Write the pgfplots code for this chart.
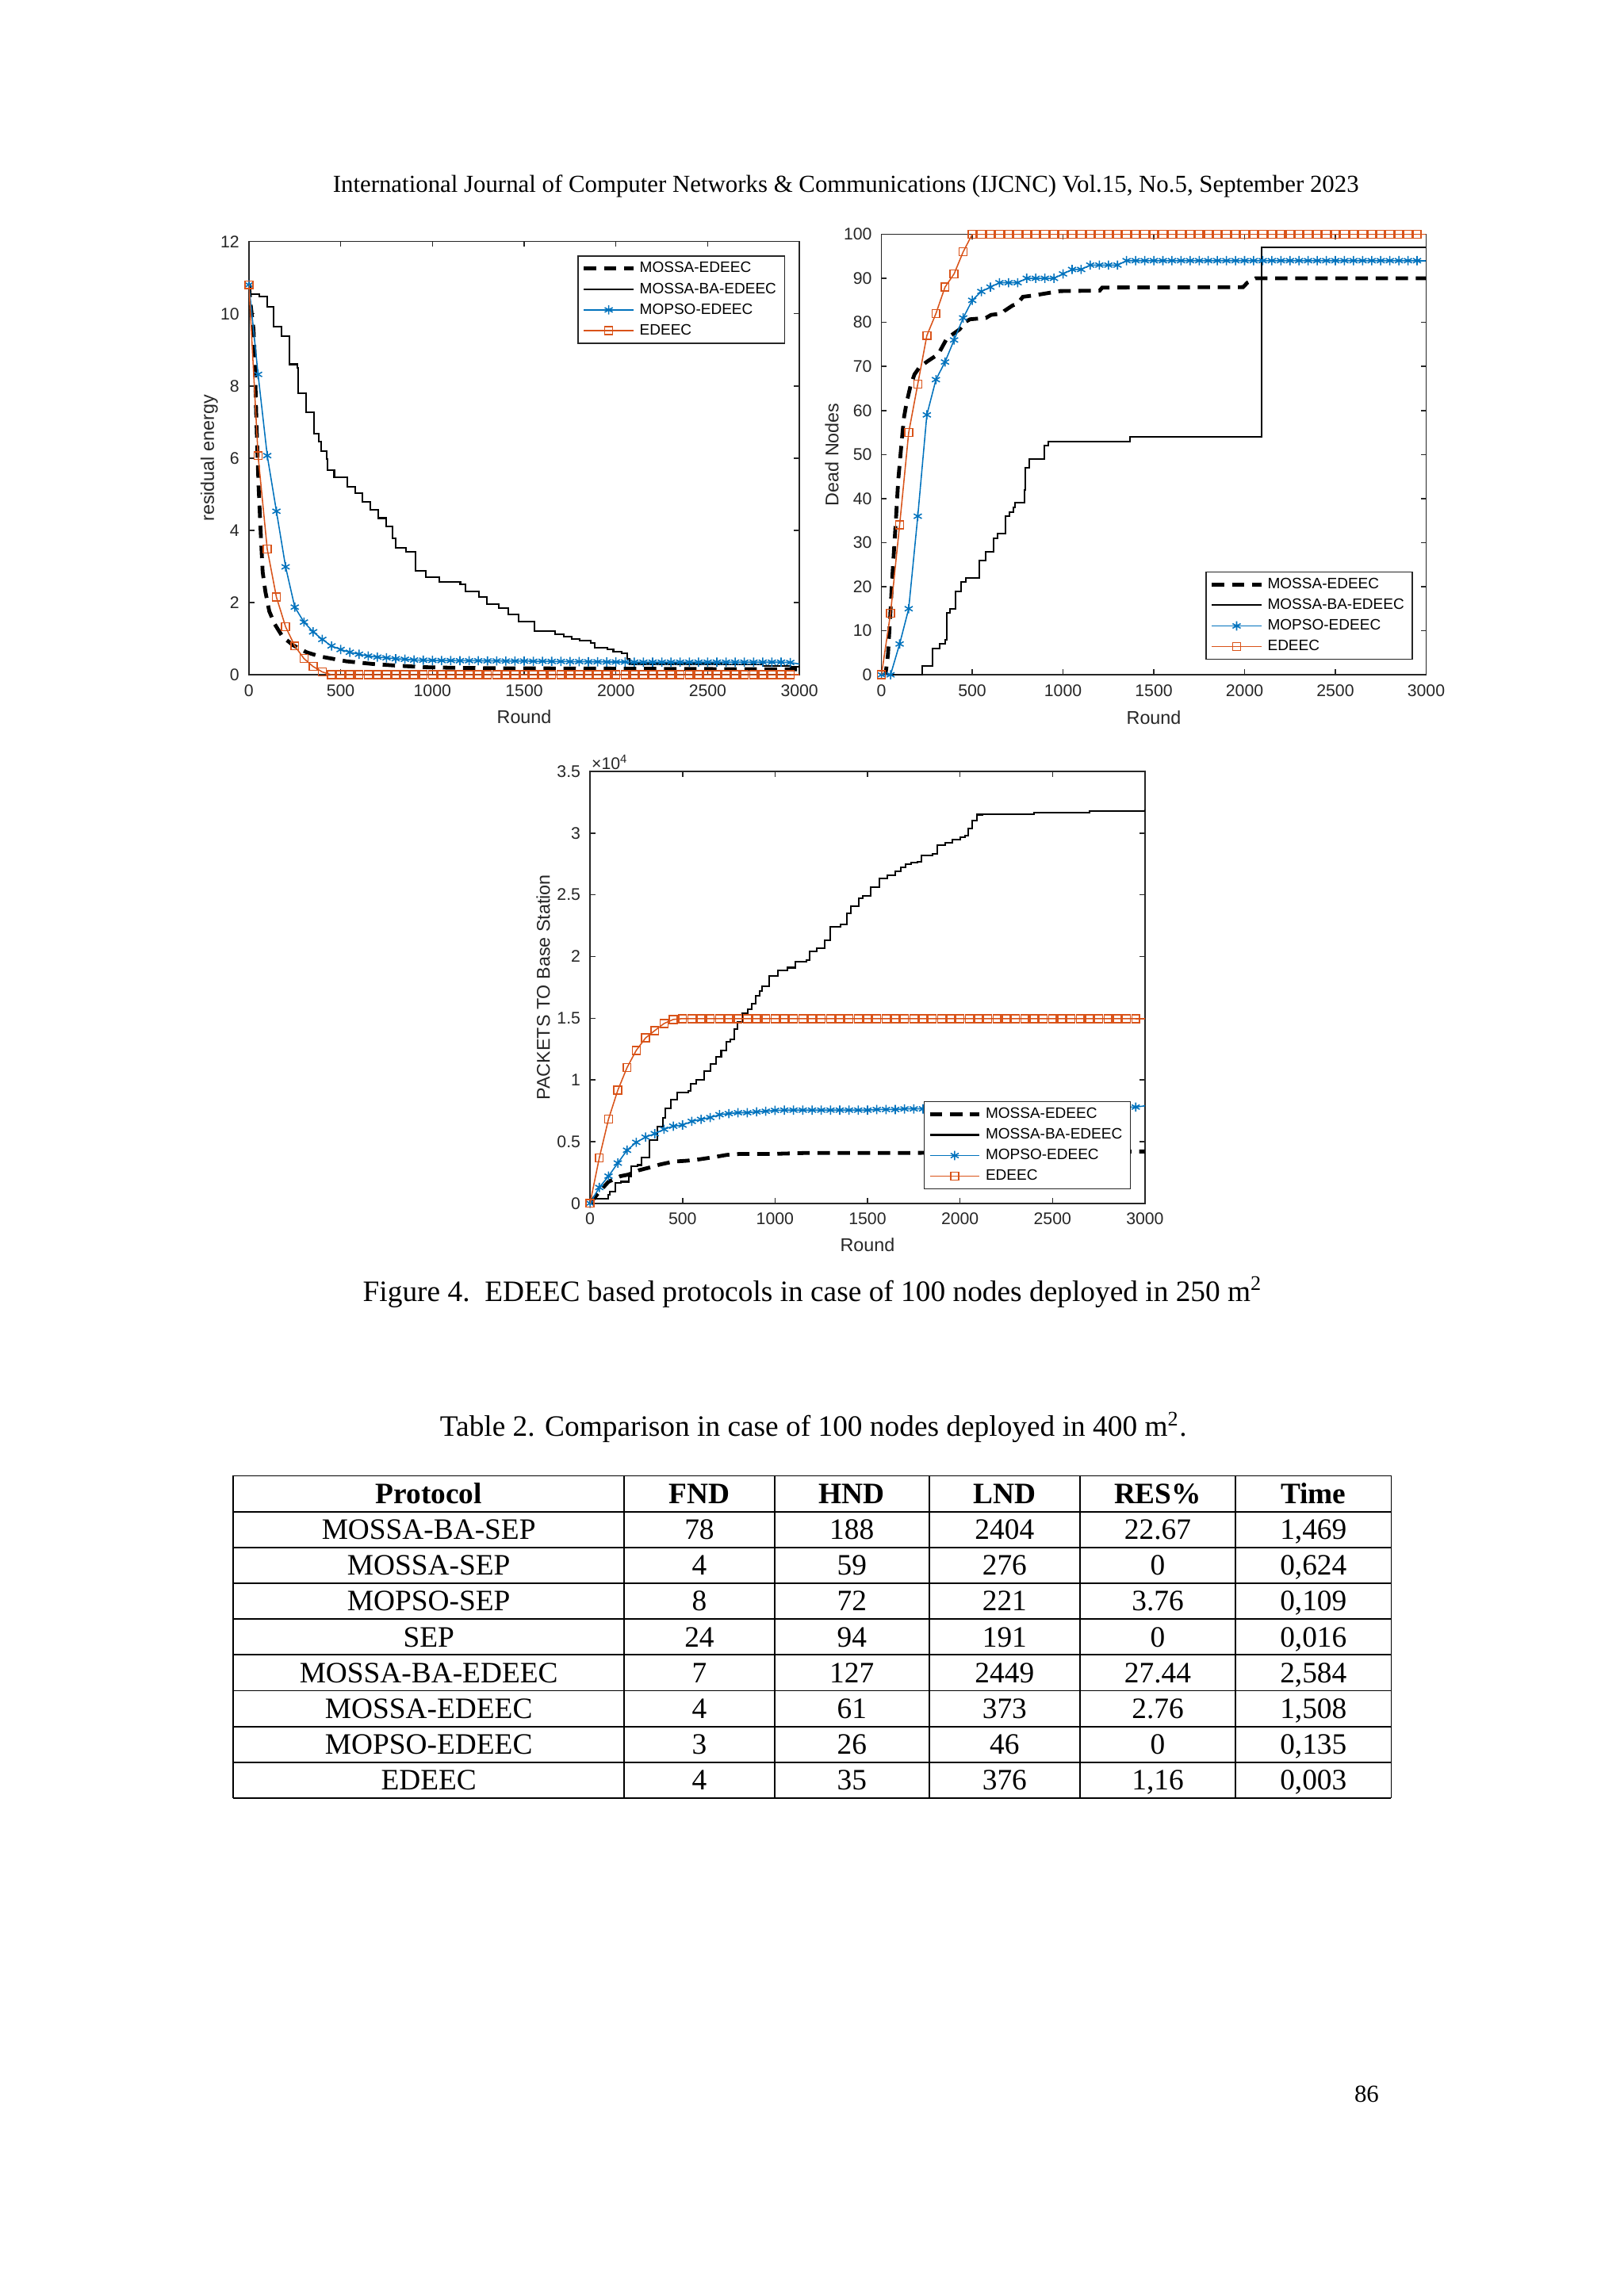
\documentclass[border=0pt]{standalone}
\usepackage{fontspec}
\setmainfont{Liberation Serif}
\newfontfamily\plotfont{Liberation Sans}
\usepackage{pgfplots}
\pgfplotsset{compat=1.18}
\definecolor{mblue}{rgb}{0,0.447,0.741}
\definecolor{morange}{rgb}{0.85,0.325,0.098}
\definecolor{axgray}{rgb}{0.15,0.15,0.15}

% MATLAB-like look shared by the three panels
\pgfplotsset{
  mat/.style={
    scale only axis,
    xmin=0, xmax=3000, xtick={0,500,...,3000},
    axis line style={draw=axgray, line width=0.45pt},
    every tick/.style={draw=axgray, line width=0.45pt},
    tick align=inside, major tick length=0.7mm,
    tick label style={font=\fontsize{6.2}{7}\selectfont\plotfont, text=axgray},
    /pgf/number format/assume math mode=true,
    /pgf/number format/1000 sep={},
    every axis x label/.style={at={(axis description cs:0.5,-0.097)}, anchor=center,
      font=\fontsize{6.8}{8}\selectfont\plotfont, text=axgray},
    every axis y label/.style={rotate=90, anchor=center,
      font=\fontsize{6.8}{8}\selectfont\plotfont, text=axgray},
    xlabel={Round},
    clip mode=individual,
    legend cell align=left,
    legend image code/.code={\draw[mark repeat=2,mark phase=2]
      plot coordinates {(0mm,0mm) (3.2mm,0mm) (6.4mm,0mm)};},
    legend style={draw=axgray, line width=0.45pt, fill=white,
      font=\fontsize{5.55}{6}\selectfont\plotfont, inner xsep=0.5mm, inner ysep=0.3mm,
      nodes={inner xsep=1.6pt, inner ysep=1.3pt, text height=4pt, text depth=1pt, text=black}},
  },
  dsh/.style={black, line width=1.4pt, dash pattern=on 1.6mm off 1mm},
  sol/.style={black, line width=0.6pt},
  blu/.style={mblue, line width=0.45pt, mark=asterisk, mark size=1.7pt, mark options={solid}},
  org/.style={morange, line width=0.45pt, mark=square, mark size=1.45pt, mark options={solid}},
}

\newcommand\trow[7]{%
  \node[anchor=base] at (55.45mm,{-(194.48+#1*4.632)*1mm}) {#2};
  \node[anchor=base] at (90.45mm,{-(194.48+#1*4.632)*1mm}) {#3};
  \node[anchor=base] at (110.17mm,{-(194.48+#1*4.632)*1mm}) {#4};
  \node[anchor=base] at (129.92mm,{-(194.48+#1*4.632)*1mm}) {#5};
  \node[anchor=base] at (149.73mm,{-(194.48+#1*4.632)*1mm}) {#6};
  \node[anchor=base] at (169.86mm,{-(194.48+#1*4.632)*1mm}) {#7};
}

\begin{document}
\begin{tikzpicture}
\path[use as bounding box, fill=white] (0,0) rectangle (210mm,-297mm);

\node[anchor=base, font=\fontsize{9}{10}\selectfont] at (109.4mm,-24.88mm)
  {International Journal of Computer Networks \& Communications (IJCNC) Vol.15, No.5, September 2023};

% ---- residual energy
\begin{axis}[mat, at={(32.19mm,-87.29mm)}, anchor=south west,
  width=71.2mm, height=56.05mm,
  ymin=0, ymax=12, ytick={0,2,...,12},
  ylabel={residual energy},
  ylabel style={at={(axis description cs:-0.072,0.5)}},
  legend style={at={(0.974,0.968)}, anchor=north east}]
\addplot[dsh] coordinates {(0,10.8) (10,10.23) (25,9.57) (32,8.8) (39,7.38) (46,6.2) (53,5.2) (65,3.87) (75,2.85) (90,2.3) (111,1.76) (140,1.41) (184,1.05) (241,0.82) (314,0.625) (386,0.51) (530,0.375) (675,0.3) (819,0.25) (964,0.21) (1108,0.195) (1397,0.18) (2000,0.17) (2500,0.16) (3000,0.15)};
\addlegendentry{MOSSA-EDEEC}
\addplot[sol, const plot] coordinates {(0,10.78) (10,10.55) (56,10.47) (101,10.2) (136,9.65) (176,9.38) (220,8.6) (263,8.5) (270,7.8) (313,7.27) (354,6.68) (379,6.45) (393,6.2) (422,5.98) (429,5.66) (465,5.47) (538,5.2) (581,5.04) (617,4.8) (660,4.57) (704,4.34) (747,4.1) (783,3.79) (798,3.52) (855,3.4) (906,2.89) (964,2.7) (1036,2.58) (1152,2.5) (1181,2.3) (1253,2.15) (1296,1.95) (1361,1.84) (1412,1.68) (1470,1.48) (1556,1.21) (1669,1.13) (1714,1.06) (1759,1.0) (1804,0.95) (1861,0.89) (1884,0.75) (1952,0.7) (1986,0.65) (2031,0.6) (2060,0.45) (2076,0.3) (2574,0.28) (2800,0.25) (2950,0.22) (3000,0.2)};
\addlegendentry{MOSSA-BA-EDEEC}
\addplot[blu] coordinates {(0,10.8) (50,8.32) (100,6.07) (150,4.53) (200,2.99) (250,1.875) (300,1.46) (350,1.19) (400,0.98) (450,0.8) (500,0.7) (550,0.625) (600,0.57) (650,0.52) (700,0.49) (750,0.47) (800,0.445) (850,0.43) (900,0.41) (950,0.405) (1000,0.4) (1050,0.395) (1100,0.395) (1150,0.39) (1200,0.39) (1250,0.39) (1300,0.385) (1350,0.385) (1400,0.38) (1450,0.38) (1500,0.38) (1550,0.375) (1600,0.375) (1650,0.37) (1700,0.37) (1750,0.365) (1800,0.365) (1850,0.36) (1900,0.36) (1950,0.355) (2000,0.355) (2050,0.355) (2100,0.35) (2150,0.35) (2200,0.35) (2250,0.35) (2300,0.35) (2350,0.35) (2400,0.35) (2450,0.35) (2500,0.35) (2550,0.35) (2600,0.35) (2650,0.35) (2700,0.35) (2750,0.35) (2800,0.35) (2850,0.35) (2900,0.35) (2950,0.34)};
\addlegendentry{MOPSO-EDEEC}
\addplot[org] coordinates {(0,10.8) (50,6.07) (100,3.48) (150,2.15) (200,1.33) (250,0.8) (300,0.45) (350,0.23) (400,0.08) (450,0) (500,0) (550,0) (600,0) (650,0) (700,0) (750,0) (800,0) (850,0) (900,0) (950,0) (1000,0) (1050,0) (1100,0) (1150,0) (1200,0) (1250,0) (1300,0) (1350,0) (1400,0) (1450,0) (1500,0) (1550,0) (1600,0) (1650,0) (1700,0) (1750,0) (1800,0) (1850,0) (1900,0) (1950,0) (2000,0) (2050,0) (2100,0) (2150,0) (2200,0) (2250,0) (2300,0) (2350,0) (2400,0) (2450,0) (2500,0) (2550,0) (2600,0) (2650,0) (2700,0) (2750,0) (2800,0) (2850,0) (2900,0) (2950,0)};
\addlegendentry{EDEEC}
\addplot[mblue, line width=0.45pt, forget plot] coordinates {(2950,0.34) (3000,0.3)};
\addplot[morange, line width=0.45pt, forget plot] coordinates {(2950,0) (3000,0)};
\end{axis}

% ---- dead nodes
\begin{axis}[mat, at={(114.0mm,-87.29mm)}, anchor=south west,
  width=70.44mm, height=56.99mm,
  ymin=0, ymax=100, ytick={0,10,...,100},
  ylabel={Dead Nodes},
  ylabel style={at={(axis description cs:-0.091,0.5)}},
  legend style={at={(0.976,0.034)}, anchor=south east}]
\addplot[dsh] coordinates {(0,0) (22,0) (36,4.7) (48,13.2) (58,21) (68,27.6) (80,35.5) (92,44) (109,51.9) (124,58.4) (138,61.7) (160,65.6) (182,68.2) (211,69.9) (255,71.2) (313,72.8) (357,76.1) (386,77.1) (430,78.4) (466,80.2) (488,80.7) (575,81) (604,81.7) (663,82) (677,82.6) (721,83.8) (750,84.3) (779,85.8) (837,86.1) (983,87.1) (1202,87.2) (1216,87.9) (1992,88) (2015,89) (2061,90) (3000,90)};
\addlegendentry{MOSSA-EDEEC}
\addplot[sol, const plot] coordinates {(0,0) (223,2) (281,6) (320,7) (350,8) (360,14) (379,15) (408,19) (437,21) (466,22) (539,26) (575,28) (619,31) (641,32) (685,36) (706,37) (728,38) (736,39) (787,42) (794,47) (816,49) (896,52) (918,53) (1369,54) (2095,97) (3000,97)};
\addlegendentry{MOSSA-BA-EDEEC}
\addplot[blu] coordinates {(0,0) (50,0) (100,7) (150,15) (200,36) (250,59) (300,67) (350,71) (400,76) (450,81) (500,85) (550,87) (600,88) (650,89) (700,89) (750,89) (800,90) (850,90) (900,90) (950,90) (1000,91) (1050,92) (1100,92) (1150,93) (1200,93) (1250,93) (1300,93) (1350,94) (1400,94) (1450,94) (1500,94) (1550,94) (1600,94) (1650,94) (1700,94) (1750,94) (1800,94) (1850,94) (1900,94) (1950,94) (2000,94) (2050,94) (2100,94) (2150,94) (2200,94) (2250,94) (2300,94) (2350,94) (2400,94) (2450,94) (2500,94) (2550,94) (2600,94) (2650,94) (2700,94) (2750,94) (2800,94) (2850,94) (2900,94) (2950,94)};
\addlegendentry{MOPSO-EDEEC}
\addplot[org] coordinates {(0,0) (50,14) (100,34) (150,55) (200,66) (250,77) (300,82) (350,88) (400,91) (450,96) (500,100) (550,100) (600,100) (650,100) (700,100) (750,100) (800,100) (850,100) (900,100) (950,100) (1000,100) (1050,100) (1100,100) (1150,100) (1200,100) (1250,100) (1300,100) (1350,100) (1400,100) (1450,100) (1500,100) (1550,100) (1600,100) (1650,100) (1700,100) (1750,100) (1800,100) (1850,100) (1900,100) (1950,100) (2000,100) (2050,100) (2100,100) (2150,100) (2200,100) (2250,100) (2300,100) (2350,100) (2400,100) (2450,100) (2500,100) (2550,100) (2600,100) (2650,100) (2700,100) (2750,100) (2800,100) (2850,100) (2900,100) (2950,100)};
\addlegendentry{EDEEC}
\addplot[mblue, line width=0.45pt, forget plot] coordinates {(2950,94) (3000,94)};
\addplot[morange, line width=0.45pt, forget plot] coordinates {(2950,100) (3000,100)};
\end{axis}

% ---- packets to base station
\begin{axis}[mat, at={(76.31mm,-155.65mm)}, anchor=south west,
  width=71.77mm, height=55.86mm,
  ymin=0, ymax=35000, ytick={0,5000,...,35000},
  scaled y ticks=base 10:-4,
  ytick scale label code/.code={×10\textsuperscript{4}},
  every y tick scale label/.style={at={(rel axis cs:0,1)}, anchor=south west, inner sep=0.4pt,
    font=\fontsize{6.2}{7}\selectfont\plotfont, text=axgray},
  ylabel={PACKETS TO Base Station},
  ylabel style={at={(axis description cs:-0.0845,0.5)}},
  legend style={at={(0.975,0.032)}, anchor=south east}]
\addplot[dsh] coordinates {(0,0) (50,930) (100,1750) (165,2200) (208,2330) (265,2680) (322,2900) (380,3150) (451,3380) (523,3450) (580,3540) (666,3730) (738,3920) (809,4000) (981,4000) (1168,4080) (1612,4080) (2000,4100) (2964,4200) (3000,4200)};
\addlegendentry{MOSSA-EDEEC}
\addplot[sol, const plot] coordinates {(0,0) (21,350) (100,700) (107,930) (136,1630) (165,1750) (208,2200) (222,3000) (258,3100) (279,3700) (322,5100) (365,6200) (394,6900) (408,7700) (437,8400) (473,9000) (530,9100) (544,9700) (573,10000) (616,10700) (652,11300) (681,11900) (709,12400) (738,13100) (759,13300) (781,14100) (795,14700) (824,15400) (852,15700) (874,16200) (895,16800) (917,17200) (931,17600) (967,18400) (1017,18900) (1067,19100) (1110,19600) (1168,19700) (1189,20400) (1225,20700) (1268,21300) (1297,22400) (1354,22600) (1390,23500) (1411,24100) (1454,24700) (1476,24900) (1519,25600) (1564,26300) (1607,26600) (1650,26900) (1679,27200) (1707,27500) (1736,27600) (1771,27700) (1793,28200) (1850,28300) (1879,29000) (1921,29200) (1957,29500) (2000,29700) (2029,29800) (2043,30400) (2064,31000) (2093,31500) (2121,31550) (2400,31650) (2700,31780) (3000,31950)};
\addlegendentry{MOSSA-BA-EDEEC}
\addplot[blu] coordinates {(0,0) (50,1280) (100,2200) (150,3260) (200,4300) (250,4940) (300,5360) (350,5640) (400,6000) (450,6250) (500,6340) (550,6640) (600,6800) (650,6950) (700,7180) (750,7270) (800,7340) (850,7340) (900,7410) (950,7460) (1000,7530) (1050,7550) (1100,7550) (1150,7550) (1200,7550) (1250,7550) (1300,7550) (1350,7550) (1400,7550) (1450,7550) (1500,7550) (1550,7600) (1600,7600) (1650,7600) (1700,7650) (1750,7650) (1800,7650) (1850,7650) (1900,7650) (1950,7700) (2000,7700) (2050,7700) (2100,7700) (2150,7700) (2200,7700) (2250,7700) (2300,7700) (2350,7700) (2400,7750) (2450,7750) (2500,7750) (2550,7750) (2600,7750) (2650,7750) (2700,7750) (2750,7800) (2800,7800) (2850,7800) (2900,7800) (2950,7800)};
\addlegendentry{MOPSO-EDEEC}
\addplot[org] coordinates {(0,0) (50,3680) (100,6830) (150,9160) (200,11000) (250,12400) (300,13400) (350,14000) (400,14570) (450,14900) (500,14970) (550,14970) (600,14970) (650,14970) (700,14970) (750,14970) (800,14970) (850,14970) (900,14970) (950,14970) (1000,14970) (1050,14970) (1100,14970) (1150,14970) (1200,14970) (1250,14970) (1300,14970) (1350,14970) (1400,14970) (1450,14970) (1500,14970) (1550,14970) (1600,14970) (1650,14970) (1700,14970) (1750,14970) (1800,14970) (1850,14970) (1900,14970) (1950,14970) (2000,14970) (2050,14970) (2100,14970) (2150,14970) (2200,14970) (2250,14970) (2300,14970) (2350,14970) (2400,14970) (2450,14970) (2500,14970) (2550,14970) (2600,14970) (2650,14970) (2700,14970) (2750,14970) (2800,14970) (2850,14970) (2900,14970) (2950,14970)};
\addlegendentry{EDEEC}
\addplot[mblue, line width=0.45pt, forget plot] coordinates {(2950,7800) (3000,7900)};
\addplot[morange, line width=0.45pt, forget plot] coordinates {(2950,14970) (3000,14970)};
\end{axis}

\node[anchor=base, font=\fontsize{10.9}{12}\selectfont] at (105.1mm,-168.3mm)
  {Figure 4.\ \ EDEEC based protocols in case of 100 nodes deployed in 250 m\textsuperscript{2}};
\node[anchor=base, font=\fontsize{10.9}{12}\selectfont] at (105.2mm,-185.8mm)
  {Table 2. Comparison in case of 100 nodes deployed in 400 m\textsuperscript{2}.};

% ---- table
\begin{scope}[line width=0.55pt]
\foreach \y in {0,...,9} \draw (30.17mm,{-(190.9+\y*4.632)*1mm}) -- (179.93mm,{-(190.9+\y*4.632)*1mm});
\foreach \x in {30.17,80.72,100.17,120.17,139.67,159.78,179.93} \draw (\x mm,-190.9mm) -- (\x mm,-232.59mm);
\end{scope}
\begin{scope}[font=\fontsize{10.9}{12}\selectfont, inner sep=0pt]
\trow{0}{\textbf{Protocol}}{\textbf{FND}}{\textbf{HND}}{\textbf{LND}}{\textbf{RES\%}}{\textbf{Time}}
\trow{1}{MOSSA-BA-SEP}{78}{188}{2404}{22.67}{1,469}
\trow{2}{MOSSA-SEP}{4}{59}{276}{0}{0,624}
\trow{3}{MOPSO-SEP}{8}{72}{221}{3.76}{0,109}
\trow{4}{SEP}{24}{94}{191}{0}{0,016}
\trow{5}{MOSSA-BA-EDEEC}{7}{127}{2449}{27.44}{2,584}
\trow{6}{MOSSA-EDEEC}{4}{61}{373}{2.76}{1,508}
\trow{7}{MOPSO-EDEEC}{3}{26}{46}{0}{0,135}
\trow{8}{EDEEC}{4}{35}{376}{1,16}{0,003}
\end{scope}

\node[anchor=base east, inner sep=0pt, font=\fontsize{9}{10}\selectfont] at (178.4mm,-271.9mm) {86};
\end{tikzpicture}
\end{document}
